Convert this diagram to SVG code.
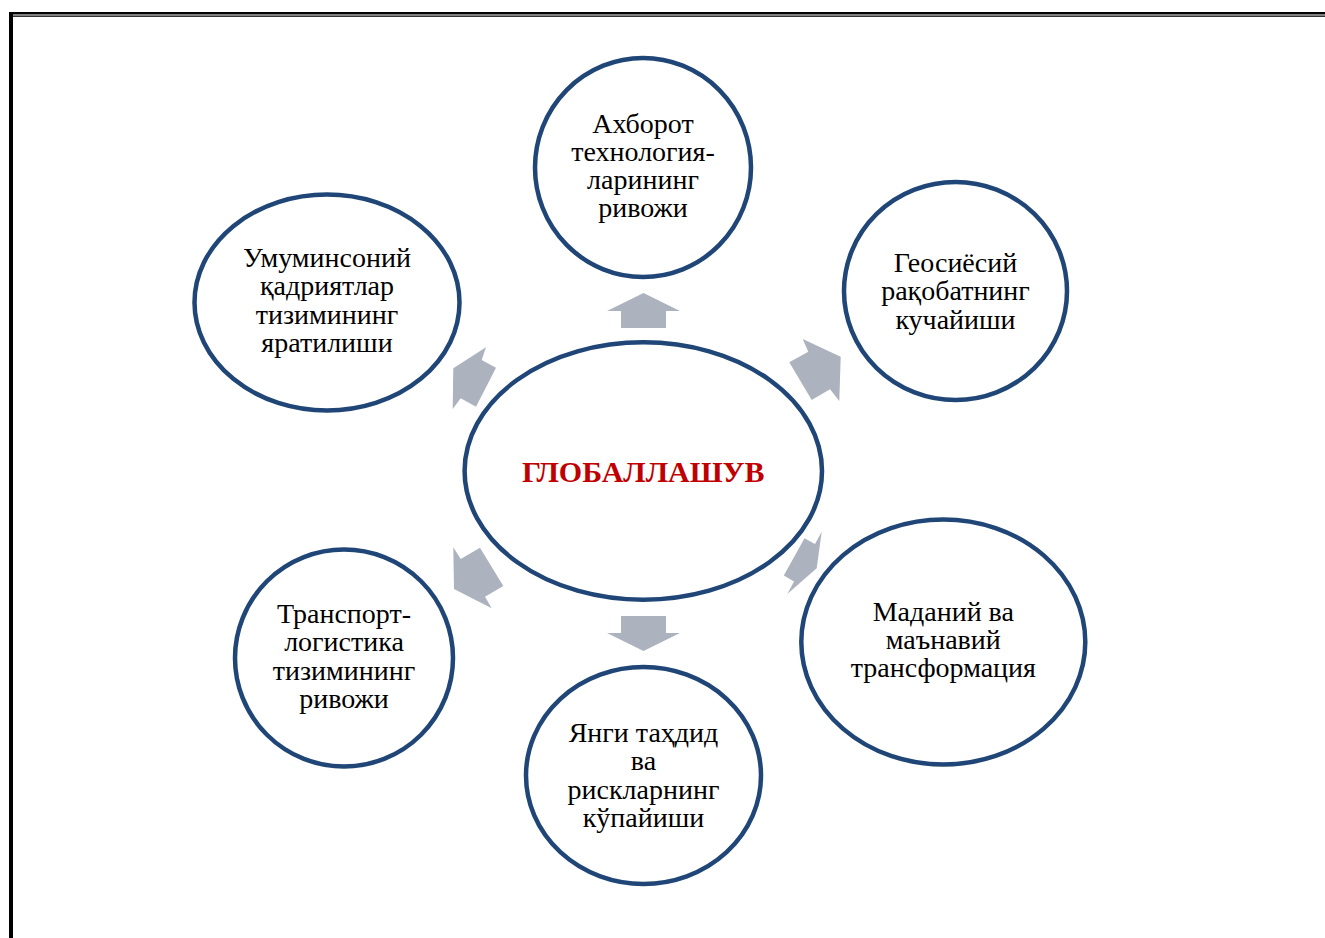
<svg xmlns="http://www.w3.org/2000/svg" width="1325" height="938" viewBox="0 0 1325 938">
<style>
.node{fill:#ffffff;stroke:#1F4677;stroke-width:4.5}
.arr{fill:#ADB2BF}
.t{font-family:"Liberation Serif","Times New Roman",serif;font-size:28px;fill:#000;text-anchor:middle}
.c{font-family:"Liberation Serif","Times New Roman",serif;font-size:30px;font-weight:bold;fill:#C00000;text-anchor:middle}
</style>
<rect width="1325" height="938" fill="#ffffff"/>
<g id="border" fill="#000">
<rect x="9" y="12" width="1316" height="2.5"/>
<rect x="13" y="15.5" width="1312" height="1.3"/>
<rect x="9" y="12" width="4" height="926"/>
</g>
<g id="connectors">
<polygon class="arr" points="643.5,293 680,311 666,311 666,328 621,328 621,311 607,311"/>
<polygon class="arr" points="643.5,651 680,633 666,633 666,616 621,616 621,633 607,633"/>
<polygon class="arr" points="453.3,368.3 486,347.3 481.7,360 496,367.7 476,406.7 460.7,398.3 452.7,409"/>
<polygon class="arr" points="840.7,356.7 839.3,401 830,389.3 811.7,400 789.3,362.3 808.3,351.7 802.7,339"/>
<polygon class="arr" points="454,589 453.3,547.3 460.7,559 480,547.7 503.3,586 485,596.7 491.7,608.3"/>
<polygon class="arr" points="816.7,568.3 821.7,531.7 815,544 804.5,538.3 783.8,575.5 794,581.5 787.3,594"/>
</g>
<g id="center">
<ellipse class="node" cx="643.3" cy="471" rx="178.7" ry="128.7"/>
<text class="c" x="643.3" y="482">ГЛОБАЛЛАШУВ</text>
</g>
<g id="n-top">
<ellipse class="node" cx="643" cy="167.5" rx="108" ry="109.5"/>
<text class="t" x="643" y="133">Ахборот</text>
<text class="t" x="643" y="161">технология-</text>
<text class="t" x="643" y="189">ларининг</text>
<text class="t" x="643" y="217">ривожи</text>
</g>
<g id="n-upper-left">
<ellipse class="node" cx="327" cy="302.5" rx="132.5" ry="108"/>
<text class="t" x="327" y="267">Умуминсоний</text>
<text class="t" x="327" y="295">қадриятлар</text>
<text class="t" x="327" y="324">тизимининг</text>
<text class="t" x="327" y="352">яратилиши</text>
</g>
<g id="n-upper-right">
<ellipse class="node" cx="955.5" cy="291" rx="111.5" ry="109"/>
<text class="t" x="955.5" y="272">Геосиёсий</text>
<text class="t" x="955.5" y="300">рақобатнинг</text>
<text class="t" x="955.5" y="329">кучайиши</text>
</g>
<g id="n-lower-right">
<ellipse class="node" cx="943.3" cy="642" rx="142" ry="122.5"/>
<text class="t" x="943.3" y="621">Маданий ва</text>
<text class="t" x="943.3" y="649">маънавий</text>
<text class="t" x="943.3" y="677">трансформация</text>
</g>
<g id="n-bottom">
<ellipse class="node" cx="643.5" cy="775.5" rx="117.5" ry="108.5"/>
<text class="t" x="643.5" y="742">Янги таҳдид</text>
<text class="t" x="643.5" y="770">ва</text>
<text class="t" x="643.5" y="799">рискларнинг</text>
<text class="t" x="643.5" y="827">кўпайиши</text>
</g>
<g id="n-lower-left">
<ellipse class="node" cx="344" cy="658" rx="109" ry="108.5"/>
<text class="t" x="344" y="623">Транспорт-</text>
<text class="t" x="344" y="651">логистика</text>
<text class="t" x="344" y="680">тизимининг</text>
<text class="t" x="344" y="708">ривожи</text>
</g>
</svg>
